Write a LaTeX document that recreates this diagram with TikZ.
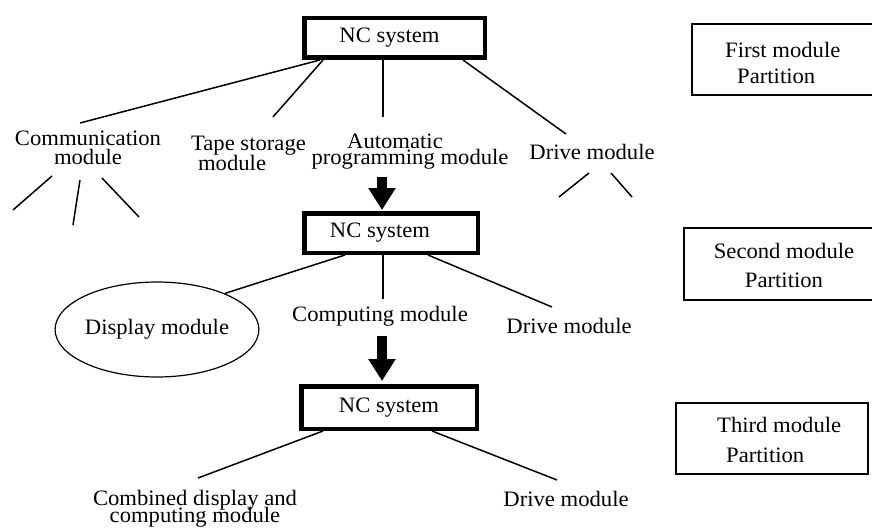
\documentclass[tikz,border=0pt]{standalone}
\usepackage{fontspec}
\setmainfont[FakeStretch=1.03]{Liberation Serif}
\usetikzlibrary{shapes.geometric,arrows.meta}

\newcommand{\lbl}[1]{\fontsize{22}{#1}\selectfont}

\tikzset{
  txt/.style={inner sep=0pt, font=\lbl{20}},
  ncbox/.style={draw, line width=4.5pt, inner sep=0pt, minimum height=39.5pt, font=\lbl{20}},
  partbox/.style={draw, line width=1.2pt, inner sep=0pt},
  link/.style={line width=1.5pt},
  bigarrow/.style={line width=10pt, -{Triangle[length=22pt,width=26pt]}},
}

\begin{document}
\lineskiplimit=-30pt\relax
\begin{tikzpicture}[x=1pt,y=-1pt]
\useasboundingbox (0,0) rectangle (872,527);
\fill[white] (0,0) rectangle (872,527);

% first partition (base anchors of two-line labels sit on the last line)
\node[ncbox, minimum width=180.5pt] (nc1) at (394.5,38) {\hspace*{-10pt}NC system};
\node[txt, align=center, anchor=base, font=\lbl{19}] (comm) at (88,164) {Communication\\module};
\node[txt, align=left, anchor=base, font=\lbl{20}] (tape) at (248.5,170) {Tape storage\\\hspace*{7pt}module};
\node[txt, align=center, anchor=base, font=\lbl{16}] (auto) at (410,164) {\hspace*{-30pt}Automatic\\programming module};
\node[txt, anchor=base] (drive1) at (592,159) {Drive module};

\coordinate (c1) at (13,210);
\coordinate (c2) at (73,225);
\coordinate (c3) at (139,217);
\coordinate (d1) at (559,197);
\coordinate (d2) at (632,197);

\draw[link] ([xshift=-74.5pt]nc1.south) -- ([xshift=-8pt,yshift=41pt]comm.base);
\draw[link] ([xshift=-71.5pt]nc1.south) -- ([xshift=24.5pt,yshift=53pt]tape.base);
\draw[link] ([xshift=-11.5pt]nc1.south) -- ([xshift=-27pt,yshift=47pt]auto.base);
\draw[link] ([xshift=68.5pt]nc1.south) -- ([xshift=-26pt,yshift=25pt]drive1.base);

\draw[link] ([xshift=-36pt,yshift=-12pt]comm.base) -- (c1);
\draw[link] ([xshift=-8pt,yshift=-16pt]comm.base) -- (c2);
\draw[link] ([xshift=14pt,yshift=-14pt]comm.base) -- (c3);
\draw[link] ([xshift=-3pt,yshift=-14pt]drive1.base) -- (d1);
\draw[link] ([xshift=19pt,yshift=-14pt]drive1.base) -- (d2);

% second partition
\node[ncbox, minimum width=173.5pt] (nc2) at (391,233) {\hspace*{-22pt}NC system};
\draw[bigarrow] ([xshift=-28pt,yshift=-13pt]auto.base) -- ([xshift=-9pt,yshift=1pt]nc2.north);

\node[ellipse, draw, line width=1.2pt, inner sep=0pt, minimum width=157pt,
  minimum height=95pt, font=\lbl{20}] (disp) at (157,329.5) {Display module};
\node[txt, anchor=base] (comp) at (380,321) {Computing module};
\node[txt, anchor=base] (drive2) at (569,333) {Drive module};

\draw[link] ([xshift=-46pt]nc2.south) -- (disp.28);
\draw[link] ([xshift=-8pt]nc2.south) -- ([xshift=3pt,yshift=22pt]comp.base);
\draw[link] ([xshift=37pt]nc2.south) -- ([xshift=-17pt,yshift=26pt]drive2.base);

% third partition
\node[ncbox, minimum width=175.5pt, minimum height=42.5pt] (nc3) at (389,407.5) {NC system};
\draw[bigarrow] ([xshift=2pt,yshift=-15pt]comp.base) -- ([xshift=-7pt,yshift=3pt]nc3.north);

\node[txt, align=center, anchor=base, font=\lbl{17}] (comb) at (195,522) {Combined display and\\computing module};
\node[txt, anchor=base] (drive3) at (566,506) {Drive module};

\draw[link] ([xshift=-66pt]nc3.south) -- ([xshift=3pt,yshift=44pt]comb.base);
\draw[link] ([xshift=43pt]nc3.south) -- ([xshift=-9pt,yshift=26pt]drive3.base);

% partition labels
\node[partbox, minimum width=228pt, minimum height=71pt] (p1) at (806,59.5) {};
\node[txt, align=left, anchor=base west, font=\lbl{26}] (t1) at (725,83)
  {First module\\\hspace*{12pt}Partition};
\node[partbox, minimum width=236pt, minimum height=72pt] (p2) at (802,264) {};
\node[txt, align=center, anchor=base, font=\lbl{29}] (t2) at (784,287)
  {Second module\\Partition};
\node[partbox, minimum width=192pt, minimum height=71pt] (p3) at (772,438.5) {};
\node[txt, align=left, anchor=base west, font=\lbl{30}] (t3) at (717,462)
  {Third module\\\hspace*{9pt}Partition};
\end{tikzpicture}
\end{document}
